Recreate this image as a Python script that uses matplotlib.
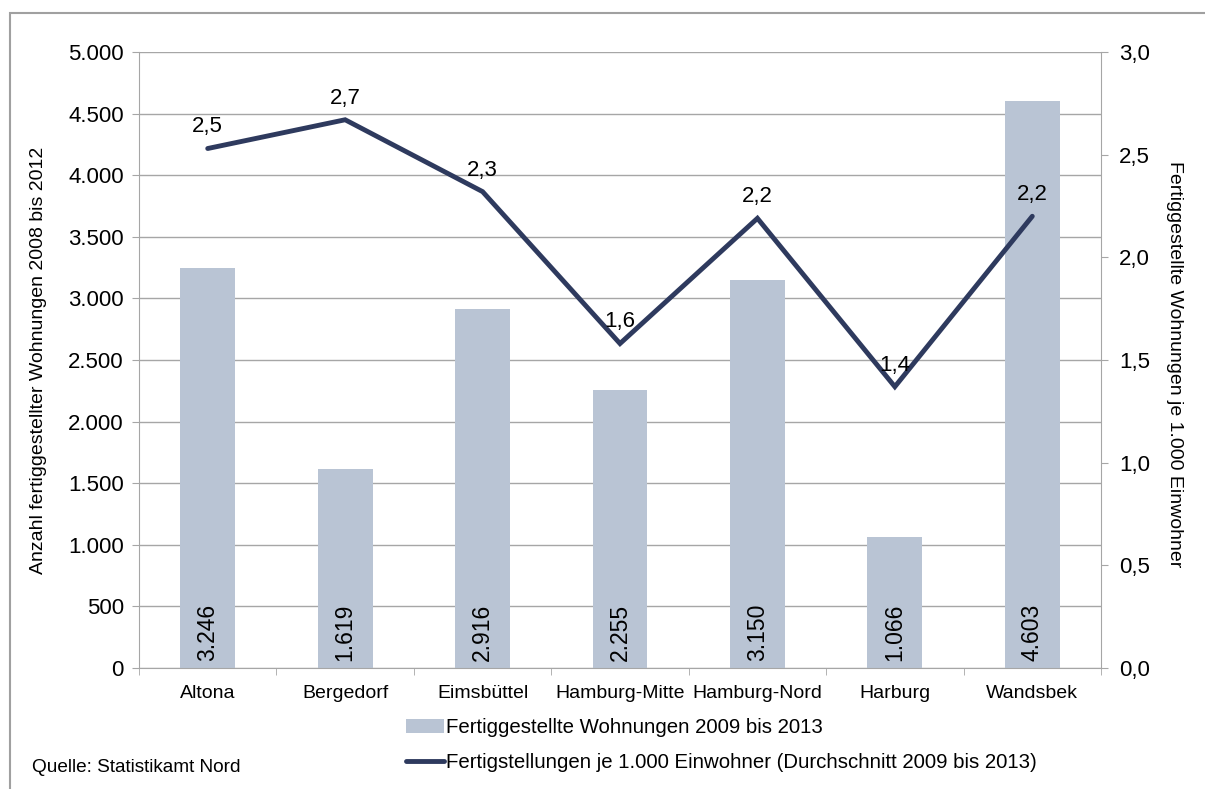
import numpy as np
import matplotlib.pyplot as plt
from matplotlib.patches import Rectangle
from matplotlib.ticker import FuncFormatter, FixedLocator

plt.rcParams['font.family'] = ['Liberation Sans', 'DejaVu Sans']

# ── Data ──────────────────────────────────────────────────────────────────────
bezirke = ["Altona", "Bergedorf", "Eimsbüttel", "Hamburg-Mitte",
           "Hamburg-Nord", "Harburg", "Wandsbek"]
wohnungen = [3246, 1619, 2916, 2255, 3150, 1066, 4603]
je_1000 = [2.53, 2.67, 2.32, 1.58, 2.19, 1.37, 2.20]
je_1000_labels = ["2,5", "2,7", "2,3", "1,6", "2,2", "1,4", "2,2"]

BAR_COL = "#B9C4D4"
LINE_COL = "#2E3A5E"
GRID_COL = "#A6A6A6"


def de_thousands(v, _pos=None):
    return f"{int(round(v)):,}".replace(",", ".")


def de_decimal(v, _pos=None):
    return f"{v:.1f}".replace(".", ",")


fig = plt.figure(figsize=(12.05, 7.89), dpi=100)
W, H = 1205, 789
ax = fig.add_axes([139 / W, 1 - 668 / H, (1101 - 139) / W, (668 - 52) / H])
ax2 = ax.twinx()

x = np.arange(len(bezirke))
bars = ax.bar(x, wohnungen, width=0.4, color=BAR_COL, zorder=2,
              label="Fertiggestellte Wohnungen 2009 bis 2013")
for xi, v in zip(x, wohnungen):
    ax.text(xi, 55, de_thousands(v), rotation=90, ha="center", va="bottom",
            fontsize=16.5, color="black", zorder=3)

line, = ax2.plot(x, je_1000, color=LINE_COL, lw=3.5, solid_capstyle="round",
                 solid_joinstyle="miter",
                 label="Fertigstellungen je 1.000 Einwohner (Durchschnitt 2009 bis 2013)")
for xi, v, lab in zip(x, je_1000, je_1000_labels):
    ax2.annotate(lab, (xi, v), xytext=(0, 8), textcoords="offset points",
                 ha="center", va="bottom", fontsize=16)

ax.set_xlim(-0.5, len(bezirke) - 0.5)
ax.set_ylim(0, 5000)
ax2.set_ylim(0, 3.0)
ax.set_yticks(np.arange(0, 5001, 500))
ax2.set_yticks(np.arange(0, 3.01, 0.5))
ax.yaxis.set_major_formatter(FuncFormatter(de_thousands))
ax2.yaxis.set_major_formatter(FuncFormatter(de_decimal))

ax.set_xticks(x)
ax.set_xticklabels(bezirke, fontsize=14)
ax.xaxis.set_minor_locator(FixedLocator(np.arange(-0.5, len(bezirke), 1.0)))
ax.tick_params(axis="x", which="major", length=0, pad=12)
ax.tick_params(axis="x", which="minor", length=5, color=GRID_COL)
ax.tick_params(axis="y", length=5, color=GRID_COL, labelsize=16, pad=6)
ax2.tick_params(axis="y", length=5, color=GRID_COL, labelsize=16, pad=8)

ax.grid(axis="y", color=GRID_COL, lw=1, zorder=0)
ax.set_axisbelow(True)
for a in (ax, ax2):
    a.spines["top"].set_visible(False)
    for s in ("left", "right", "bottom"):
        a.spines[s].set_color(GRID_COL)
ax2.spines["left"].set_visible(False)
ax2.spines["bottom"].set_visible(False)
ax.spines["right"].set_visible(False)

ax.set_ylabel("Anzahl fertiggestellter Wohnungen 2008 bis 2012", fontsize=14)
ax.yaxis.set_label_coords((47 - 139) / (1101 - 139), (668 - 360) / (668 - 52))
ax2.set_ylabel("Fertiggestellte Wohnungen je 1.000 Einwohner", fontsize=14,
               rotation=-90, va="center")
ax2.yaxis.set_label_coords((1175 - 139) / (1101 - 139), (668 - 364) / (668 - 52))

fig.legend(handles=[bars, line], loc="upper left",
           bbox_to_anchor=(398 / W, 1 - 710 / H), frameon=False, fontsize=14.7,
           handlelength=1.85, handletextpad=0.1, labelspacing=0.8,
           borderaxespad=0)

fig.text(32 / W, 1 - 768 / H, "Quelle: Statistikamt Nord", fontsize=13.7,
         va="center", ha="left")

fig.patches.append(Rectangle((10 / W, -0.05), 1.2, 1 - 13 / H + 0.05,
                             transform=fig.transFigure, fill=False,
                             edgecolor="#A0A0A0", lw=1.5))

fig.savefig("out.png", dpi=100)
